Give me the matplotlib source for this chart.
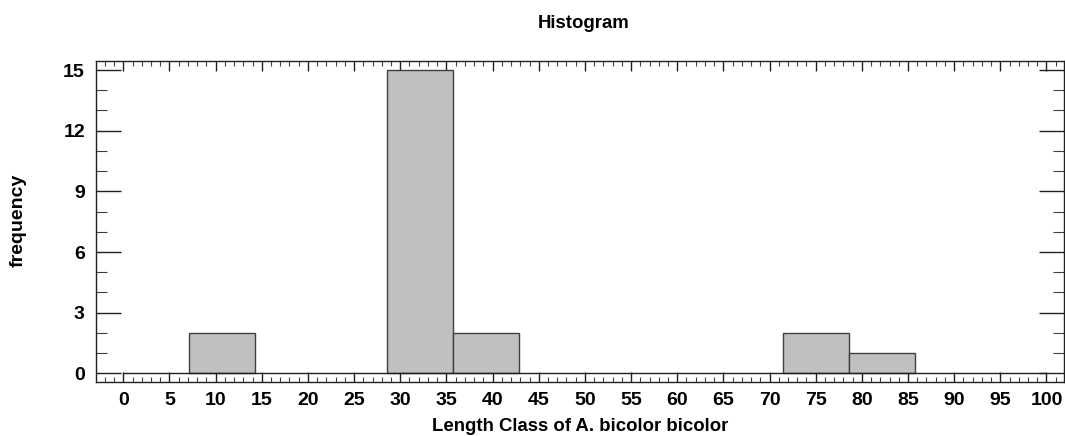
import numpy as np
import matplotlib
matplotlib.use("Agg")
import matplotlib.pyplot as plt
from matplotlib.ticker import MultipleLocator

plt.rcParams['font.family'] = ['Liberation Sans', 'DejaVu Sans']

# data
n_bins = 14
x_min, x_max = 0, 100
counts = [0, 2, 0, 0, 15, 2, 0, 0, 0, 0, 2, 1, 0, 0]
title = "Histogram"
xlabel = "Length Class of A. bicolor bicolor"
ylabel = "frequency"

edges = np.linspace(x_min, x_max, n_bins + 1)
width = edges[1] - edges[0]

fig = plt.figure(figsize=(10.65, 4.36), dpi=100)
ax = fig.add_axes([96/1065, 1 - 382.3/436, (1064-96)/1065, (382.3-60.7)/436])

nz = [i for i, c in enumerate(counts) if c > 0]
ax.bar([edges[i] for i in nz], [counts[i] for i in nz], width=width, align='edge',
       color='#c0c0c0', edgecolor='#404040', linewidth=1.0, zorder=3)
ax.plot([x_min, x_max], [0, 0], color='#202020', linewidth=1.0, zorder=4)

ax.set_xlim(-2.96, 101.9)
ax.set_ylim(-0.44, 15.46)
ax.xaxis.set_major_locator(MultipleLocator(5))
ax.xaxis.set_minor_locator(MultipleLocator(1))
ax.yaxis.set_major_locator(MultipleLocator(3))
ax.yaxis.set_minor_locator(MultipleLocator(1))

ax.tick_params(axis='x', which='major', direction='in', length=7, width=1, top=True,
               labelsize=14, pad=7, colors='#202020')
ax.tick_params(axis='x', which='minor', direction='in', length=3.5, width=0.8, top=True,
               colors='#404040')
ax.tick_params(axis='y', which='major', direction='in', length=18, width=1, right=True,
               labelsize=14, pad=8, colors='#202020')
ax.tick_params(axis='y', which='minor', direction='in', length=8, width=0.8, right=True,
               colors='#404040')
for lbl in ax.get_xticklabels() + ax.get_yticklabels():
    lbl.set_fontweight('bold')
    lbl.set_color('black')

for s in ax.spines.values():
    s.set_color('#202020')
    s.set_linewidth(1.0)

fig.text(584/1065, 1 - 23/436, title, ha='center', va='center', fontsize=13.4, fontweight='bold')
fig.text(580/1065, 1 - 426/436, xlabel, ha='center', va='center', fontsize=13.4, fontweight='bold')
fig.text(18/1065, 1 - 220/436, ylabel, ha='center', va='center', rotation=90, fontsize=14, fontweight='bold')

fig.savefig("out.png", dpi=100)
